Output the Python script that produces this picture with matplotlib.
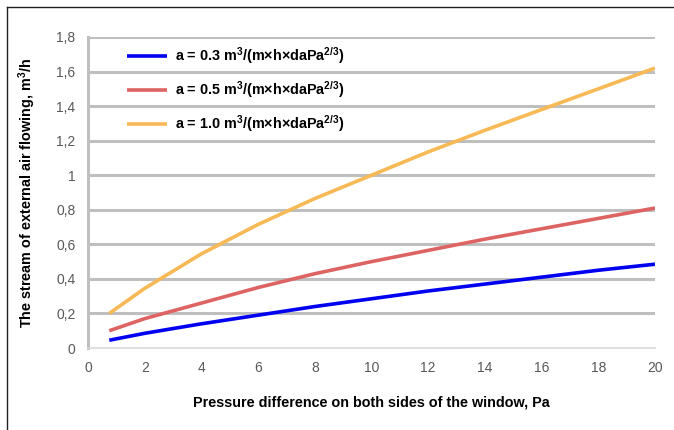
import matplotlib.pyplot as plt
from matplotlib.lines import Line2D
from matplotlib.ticker import FixedLocator, FixedFormatter

plt.rcParams['font.family'] = ['Liberation Sans', 'DejaVu Sans']
plt.rcParams['mathtext.fontset'] = 'custom'
plt.rcParams['mathtext.rm'] = 'Liberation Sans'
plt.rcParams['mathtext.default'] = 'regular'

# pressure difference, Pa
dp = [0.75, 2, 4, 6, 8, 10, 12, 14, 16, 18, 20]
# stream of external air flowing, m3/h
q_03 = [0.045, 0.085, 0.14, 0.19, 0.24, 0.285, 0.33, 0.37, 0.41, 0.45, 0.485]
q_05 = [0.10, 0.17, 0.26, 0.35, 0.43, 0.50, 0.565, 0.63, 0.69, 0.75, 0.81]
q_10 = [0.20, 0.345, 0.545, 0.715, 0.865, 1.0, 1.135, 1.26, 1.38, 1.50, 1.62]

labels = [r'a = 0.3 m$^3$/(m×h×daPa$^{2/3}$)',
          r'a = 0.5 m$^3$/(m×h×daPa$^{2/3}$)',
          r'a = 1.0 m$^3$/(m×h×daPa$^{2/3}$)']
colors = ['#0000F0', '#DE6464', '#F7B955']

yticks = [0, 0.2, 0.4, 0.6, 0.8, 1.0, 1.2, 1.4, 1.6, 1.8]
ylabels = ['0', '0,2', '0,4', '0,6', '0,8', '1', '1,2', '1,4', '1,6', '1,8']
xticks = [0, 2, 4, 6, 8, 10, 12, 14, 16, 18, 20]

fig = plt.figure(figsize=(6.74, 4.30), dpi=100)
ax = fig.add_axes([88/674, 1-348/430, (655-88)/674, (348-37)/430])

for y in yticks[1:]:
    ax.axhline(y, color='#BFBFBF', lw=2.2, zorder=0)

for q, c, l in zip([q_03, q_05, q_10], colors, labels):
    ax.plot(dp, q, color=c, lw=2.6, label=l, solid_capstyle='butt')

ax.set_xlim(0, 20)
ax.set_ylim(0, 1.8)
ax.yaxis.set_major_locator(FixedLocator(yticks))
ax.yaxis.set_major_formatter(FixedFormatter(ylabels))
ax.set_xticks(xticks)
ax.tick_params(length=0, labelsize=10, colors='#595959', pad=9)
for s in ['top', 'right']:
    ax.spines[s].set_visible(False)
ax.spines['left'].set_color('#BFBFBF')
ax.spines['left'].set_linewidth(2.2)
ax.spines['bottom'].set_color('#D9D9D9')
ax.spines['bottom'].set_linewidth(1.2)

ax.set_xlabel('Pressure difference on both sides of the window, Pa',
              fontsize=10.4, fontweight='bold', labelpad=15)
ax.set_ylabel(r'The stream of external air flowing, m$^3$/h',
              fontsize=10.4, fontweight='bold', labelpad=13)

leg = ax.legend(loc='upper left', bbox_to_anchor=(0.045, 1.015), frameon=False,
                fontsize=10.4, handlelength=2.8, handletextpad=0.55,
                labelspacing=0.9)
for t in leg.get_texts():
    t.set_fontweight('bold')

# outer frame
fig.add_artist(Line2D([7/674, 1], [1-7/430, 1-7/430], color='#202020', lw=1))
fig.add_artist(Line2D([7/674, 7/674], [0, 1-7/430], color='#202020', lw=1))

fig.savefig('out.png', dpi=100)
